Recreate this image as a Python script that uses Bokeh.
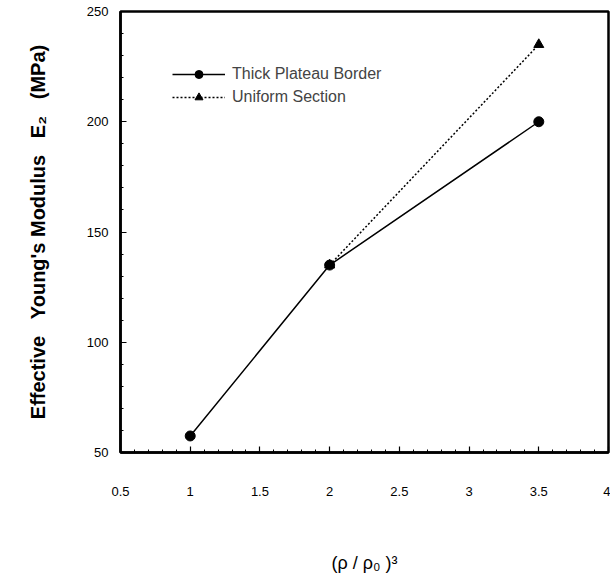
from bokeh.plotting import figure
from bokeh.models import Legend, LegendItem, Range1d, FixedTicker
from bokeh.embed import file_html
from bokeh.resources import INLINE

# Data
thick_x = [1, 2, 3.5]
thick_y = [57.5, 135, 200]
uniform_x = [2, 3.5]
uniform_y = [135, 235]
x_ticks = [0.5, 1, 1.5, 2, 2.5, 3, 3.5, 4]
y_ticks = [50, 100, 150, 200, 250]

FONT = "Liberation Sans"
SP = "\u00a0"

p = figure(width=610, height=578, output_backend="svg", toolbar_location=None,
           x_range=Range1d(0.5, 4), y_range=Range1d(50, 250),
           min_border_left=120, min_border_right=2, min_border_top=11, min_border_bottom=126)
p.grid.visible = False
p.outline_line_color = "black"
p.outline_line_width = 2.5
p.background_fill_color = "white"
p.border_fill_color = "white"

for ax in (p.xaxis[0], p.yaxis[0]):
    ax.axis_line_width = 2.5
    ax.major_tick_in = 6
    ax.major_tick_out = 0
    ax.minor_tick_in = 3
    ax.minor_tick_out = 0
    ax.major_tick_line_width = 1.2
    ax.minor_tick_line_width = 1
    ax.major_label_text_font = FONT
    ax.major_label_text_font_size = "13px"
    ax.major_label_text_color = "black"
    ax.axis_label_text_color = "black"

p.xaxis.ticker = FixedTicker(ticks=x_ticks, minor_ticks=[0.5 + 0.1 * i for i in range(36)])
p.yaxis.ticker = FixedTicker(ticks=y_ticks, minor_ticks=[50 + 10 * i for i in range(21)])
p.xaxis.major_label_standoff = 34
p.yaxis.major_label_standoff = 12

p.xaxis.axis_label = "(ρ" + SP + "/" + SP + "ρ₀" + SP + ")³"
p.xaxis.axis_label_text_font = FONT
p.xaxis.axis_label_text_font_style = "normal"
p.xaxis.axis_label_text_font_size = "18px"
p.xaxis.axis_label_standoff = 54

p.yaxis.axis_label = ("Effective" + SP * 3 + "Young's" + SP + "Modulus" + SP * 3 + "E₂"
                      + SP * 3 + "(MPa)")
p.yaxis.axis_label_text_font = FONT
p.yaxis.axis_label_text_font_style = "bold"
p.yaxis.axis_label_text_font_size = "20px"
p.yaxis.axis_label_standoff = 35

l1 = p.line(thick_x, thick_y, line_color="black", line_width=1.5)
m1 = p.scatter(thick_x, thick_y, marker="circle", size=10, fill_color="black", line_color="black")
l2 = p.line(uniform_x, uniform_y, line_color="black", line_width=1.5, line_dash="2 2")
m2 = p.scatter(uniform_x, uniform_y, marker="triangle", size=10, fill_color="black", line_color="black")

legend = Legend(items=[LegendItem(label="Thick Plateau Border", renderers=[l1, m1]),
                       LegendItem(label="Uniform Section", renderers=[l2, m2])],
                location=(52, 345), border_line_color=None, background_fill_alpha=0,
                padding=0, margin=0, spacing=3, glyph_width=53, glyph_height=20,
                label_height=20, label_standoff=7,
                label_text_font=FONT, label_text_font_size="16px")
p.add_layout(legend, "center")

open("out.html", "w").write(file_html(p, INLINE))
